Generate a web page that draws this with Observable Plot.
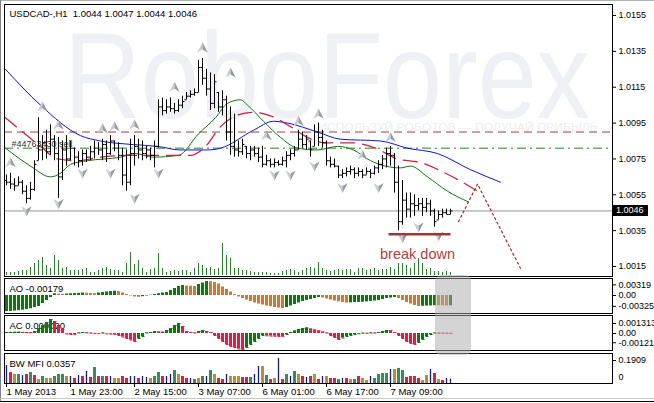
<!DOCTYPE html>
<html><head><meta charset="utf-8">
<script src="https://cdn.jsdelivr.net/npm/d3@7"></script>
<script src="https://cdn.jsdelivr.net/npm/@observablehq/plot@0.6"></script>
<style>
html,body{margin:0;padding:0;background:#fff;}
#wrap{position:relative;width:654px;height:403px;overflow:hidden;background:#fff;}
</style></head><body><div id="wrap"></div>
<script>
// ---------------- DATA ----------------
const headerText = "USDCAD-,H1  1.0044 1.0047 1.0044 1.0046";
const watermarkTitle = "RoboForex";
const watermarkSub = "ИСПОЛЬЗУЙ РОБОТОВ — ПОЛУЧАЙ ПРИБЫЛЬ";
const orderLabel = "#44763430 sell";
const breakLabel = "break down";
const aoLabel = "AO -0.00179";
const acLabel = "AC 0.000020";
const mfiLabel = "BW MFI 0.0357";

const timeTickIdx = [0, 16, 32, 48, 64, 80, 96];
const timeLabels = ["1 May 2013", "1 May 23:00", "2 May 15:00", "3 May 07:00", "6 May 01:00", "6 May 17:00", "7 May 09:00"];
const priceTicks = [1.0155, 1.0135, 1.0115, 1.0095, 1.0075, 1.0055, 1.0035, 1.0015];
const aoTicks = [0.00319, 0, -0.00325];
const aoTickLabels = ["0.00319", "0.00", "-0.00325"];
const acTicks = [0.001313, 0, -0.00121];
const acTickLabels = ["0.001313", "0.00", "-0.00121"];
const mfiTicks = [0.1909];
const mfiTickLabels = ["0.1909"];
const mfiZeroLabel = "0";

const firstOpen = 1.0063;
const highs = [1.0066,1.0067,1.0064,1.0065,1.0063,1.0060,1.0062,1.0074,1.0098,1.0088,
 1.0091,1.0094,1.0088,1.0087,1.0085,1.0088,1.0085,1.0081,1.0079,1.0080,
 1.0080,1.0082,1.0085,1.0084,1.0086,1.0085,1.0088,1.0085,1.0084,1.0081,
 1.0080,1.0086,1.0088,1.0086,1.0085,1.0082,1.0081,1.0085,1.0108,1.0109,
 1.0108,1.0109,1.0106,1.0108,1.0110,1.0112,1.0113,1.0114,1.0130,1.0131,
 1.0125,1.0123,1.0122,1.0112,1.0113,1.0110,1.0104,1.0100,1.0085,1.0086,
 1.0082,1.0082,1.0082,1.0081,1.0082,1.0077,1.0075,1.0075,1.0074,1.0076,
 1.0079,1.0080,1.0082,1.0091,1.0090,1.0088,1.0085,1.0094,1.0095,1.0091,
 1.0085,1.0076,1.0075,1.0071,1.0069,1.0070,1.0071,1.0070,1.0070,1.0069,
 1.0070,1.0069,1.0071,1.0074,1.0077,1.0081,1.0082,1.0078,1.0071,1.0063,
 1.0056,1.0056,1.0055,1.0053,1.0053,1.0053,1.0052,1.0047,1.0046,1.0047,
 1.0047,1.0047];
const lows = [1.0060,1.0058,1.0057,1.0060,1.0055,1.0050,1.0052,1.0057,1.0074,1.0074,
 1.0075,1.0077,1.0074,1.0053,1.0063,1.0071,1.0074,1.0071,1.0070,1.0071,
 1.0073,1.0074,1.0075,1.0077,1.0074,1.0073,1.0077,1.0079,1.0074,1.0060,
 1.0057,1.0060,1.0071,1.0075,1.0074,1.0075,1.0074,1.0070,1.0081,1.0099,
 1.0100,1.0101,1.0100,1.0101,1.0103,1.0108,1.0109,1.0110,1.0112,1.0116,
 1.0110,1.0102,1.0103,1.0101,1.0099,1.0085,1.0077,1.0076,1.0076,1.0077,
 1.0075,1.0074,1.0076,1.0073,1.0070,1.0071,1.0070,1.0070,1.0071,1.0071,
 1.0070,1.0074,1.0076,1.0080,1.0081,1.0080,1.0076,1.0082,1.0082,1.0081,
 1.0071,1.0070,1.0070,1.0064,1.0064,1.0065,1.0066,1.0064,1.0065,1.0064,
 1.0066,1.0064,1.0066,1.0067,1.0069,1.0070,1.0071,1.0056,1.0035,1.0038,
 1.0042,1.0042,1.0043,1.0046,1.0043,1.0045,1.0043,1.0037,1.0041,1.0042,
 1.0044,1.0044];
const closes = [1.0062,1.0061,1.0060,1.0062,1.0057,1.0053,1.0058,1.0072,1.0080,1.0084,
 1.0079,1.0086,1.0078,1.0065,1.0080,1.0075,1.0081,1.0076,1.0074,1.0078,
 1.0076,1.0079,1.0081,1.0080,1.0083,1.0078,1.0085,1.0081,1.0077,1.0066,
 1.0062,1.0078,1.0082,1.0080,1.0078,1.0080,1.0077,1.0082,1.0104,1.0102,
 1.0104,1.0103,1.0102,1.0105,1.0107,1.0110,1.0111,1.0112,1.0126,1.0120,
 1.0114,1.0106,1.0118,1.0104,1.0108,1.0090,1.0082,1.0080,1.0079,1.0083,
 1.0078,1.0080,1.0078,1.0076,1.0072,1.0074,1.0072,1.0073,1.0072,1.0074,
 1.0077,1.0078,1.0080,1.0086,1.0083,1.0086,1.0080,1.0090,1.0087,1.0084,
 1.0074,1.0072,1.0071,1.0066,1.0067,1.0068,1.0069,1.0067,1.0068,1.0066,
 1.0068,1.0067,1.0070,1.0072,1.0075,1.0078,1.0077,1.0062,1.0040,1.0052,
 1.0047,1.0050,1.0049,1.0050,1.0048,1.0050,1.0046,1.0040,1.0044,1.0045,
 1.0044,1.0046];
const volumes = [150,150,150,200,250,250,400,600,750,900,
 500,350,1000,750,350,400,250,250,250,300,
 350,150,150,250,350,400,300,250,250,150,
 600,1150,550,750,350,150,300,350,1100,350,
 150,200,250,200,250,250,150,350,600,500,
 350,400,300,350,1600,1000,850,350,350,250,
 250,200,150,150,150,150,100,100,100,200,
 250,300,250,150,250,350,400,350,650,350,
 250,200,250,300,250,300,300,150,350,350,
 250,300,350,250,300,300,400,300,600,600,
 500,350,600,850,600,300,350,200,200,150,
 200,150];

// Alligator-style moving averages (bar position, price)
const blueIdx = [-0.25,8.5,18.5,23.5,31.75,37.75,43.5,50.25,53.5,61.75,66.75,70.25,77.75,83.5,93.5,100.25,107.75,116,123.5];
const bluePrice = [1.0125,1.0105,1.0088,1.0085,1.0083,1.0082,1.0080,1.0080,1.0081,1.0091,1.0096,1.0095,1.0090,1.0086,1.0085,1.0081,1.0078,1.0069,1.0062];
const redIdx = [-0.25,3.5,8.5,12.75,17.75,23.5,31,38.5,46,49.75,53.5,57.25,61.5,66,71,75.25,79.75,86.5,92.25,97.75,103.5,109.75,114,117.75];
const redPrice = [1.0098,1.0091,1.0082,1.0075,1.0074,1.0076,1.0077,1.0077,1.0077,1.0082,1.0093,1.0099,1.0101,1.0099,1.0093,1.0087,1.0084,1.0084,1.0081,1.0075,1.0073,1.0067,1.0062,1.0057];
const greenIdx = [-0.25,6,11,13.5,16,20.25,28.5,32.25,36.5,43,48,52.25,55.25,58.5,60.25,64.25,68.5,72.75,77.75,82.75,86.75,91,98.5,101,105.25,110.25,115.5];
const greenPrice = [1.0081,1.0071,1.0065,1.0067,1.0072,1.0074,1.0076,1.0078,1.0076,1.0077,1.0089,1.0098,1.0106,1.0108,1.0105,1.0096,1.0087,1.0081,1.0080,1.0082,1.0080,1.0074,1.0070,1.0071,1.0065,1.0057,1.0051];

// Fractals
const upFracIdx = [1,9,13,24,27,32,42,49,56,65,73,78,89,96];
const upFracPrice = [1.0073,1.0104,1.0094,1.0092,1.0093,1.0094,1.0115,1.0137,1.0123,1.0088,1.0096,1.0100,1.0077,1.0087];
const downFracIdx = [5,13,19,26,32,38,67,71,77,84,93,99,103,108];
const downFracPrice = [1.0046,1.0050,1.0067,1.0067,1.0053,1.0067,1.0066,1.0066,1.0071,1.0059,1.0059,1.0031,1.0037,1.0032];

// Levels and drawings
const bidPrice = 1.0046;
const stopLevel = 1.0090;
const orderLevel = 1.0081;
const breakLevel = 1.0033;
const breakFrom = 95.5, breakTo = 111, breakTextIdx = 102.75;
const forecastIdx = [113, 117.75, 128.5];
const forecastPrice = [1.0040, 1.0061, 1.0014];

// Awesome Oscillator
const aoValues = [-0.00482,-0.00478,-0.00468,-0.00455,-0.00440,-0.00423,-0.00398,-0.00365,-0.00330,-0.00240,
 -0.00150,-0.00060,0.00050,0.00042,0.00036,0.00045,0.00054,0.00060,0.00066,0.00075,
 0.00069,0.00060,0.00054,0.00075,0.00090,0.00105,0.00120,0.00129,0.00114,0.00075,
 0.00030,-0.00015,-0.00045,-0.00054,-0.00036,-0.00015,0.00009,0.00030,0.00054,0.00075,
 0.00090,0.00150,0.00210,0.00270,0.00300,0.00285,0.00279,0.00270,0.00330,0.00375,
 0.00420,0.00414,0.00390,0.00345,0.00255,0.00180,0.00105,0.00030,-0.00045,-0.00090,
 -0.00135,-0.00180,-0.00225,-0.00255,-0.00285,-0.00315,-0.00336,-0.00360,-0.00375,-0.00390,
 -0.00360,-0.00315,-0.00270,-0.00225,-0.00180,-0.00150,-0.00120,-0.00090,-0.00060,-0.00075,
 -0.00105,-0.00135,-0.00165,-0.00189,-0.00210,-0.00225,-0.00219,-0.00213,-0.00207,-0.00201,
 -0.00192,-0.00180,-0.00165,-0.00150,-0.00120,-0.00090,-0.00075,-0.00060,-0.00090,-0.00150,
 -0.00210,-0.00255,-0.00300,-0.00330,-0.00324,-0.00318,-0.00312,-0.00306,-0.00309,-0.00312,
 -0.00315,-0.00309];
// Accelerator Oscillator
const acValues = [0.000131,0.000140,0.000157,0.000170,0.000144,0.000118,0.000105,0.000262,0.000655,0.001048,
 0.001441,0.001834,0.001572,0.001048,0.000524,-0.000066,-0.000131,-0.000157,0.000066,0.000131,
 0.000079,0.000039,-0.000010,-0.000026,0.000066,-0.000039,-0.000079,-0.000118,-0.000262,-0.000459,
 -0.000655,-0.000852,-0.001048,-0.000655,-0.000393,0.000066,0.000131,0.000236,0.000197,0.000170,
 0.000393,0.000655,0.001048,0.001310,0.000917,0.000262,0.000131,0.000066,0.000262,0.000393,
 0.000262,0.000131,-0.000262,-0.000655,-0.001048,-0.001441,-0.001703,-0.001834,-0.002031,-0.002096,
 -0.001834,-0.001441,-0.001048,-0.000655,-0.000262,-0.000301,-0.000341,-0.000367,-0.000393,-0.000419,
 -0.000131,0.000131,0.000328,0.000524,0.000655,0.000721,0.000590,0.000459,0.000328,0.000197,
 0.000066,-0.000262,-0.000524,-0.000786,-0.000590,-0.000393,-0.000262,-0.000131,-0.000039,0.000039,
 0.000026,0.000066,0.000052,0.000131,0.000262,0.000393,0.000367,0.000131,-0.000262,-0.000655,
 -0.001048,-0.001310,-0.001441,-0.001179,-0.000786,-0.000393,-0.000131,0.000052,0.000039,0.000033,
 0.000026,0.000020];
// Market Facilitation Index (G = green, F = fade, B = fake, S = squat)
const mfiValues = [0.149,0.091,0.075,0.075,0.066,0.075,0.091,0.066,0.033,0.058,
 0.042,0.042,0.058,0.075,0.075,0.058,0.058,0.042,0.066,0.058,
 0.100,0.050,0.133,0.058,0.058,0.058,0.058,0.042,0.042,0.058,
 0.042,0.058,0.058,0.042,0.058,0.050,0.042,0.058,0.091,0.058,
 0.058,0.075,0.108,0.075,0.058,0.042,0.042,0.033,0.042,0.058,
 0.058,0.108,0.075,0.042,0.033,0.075,0.058,0.058,0.058,0.050,
 0.050,0.050,0.075,0.141,0.141,0.066,0.033,0.042,0.208,0.033,
 0.075,0.058,0.100,0.075,0.058,0.050,0.058,0.075,0.033,0.058,
 0.058,0.042,0.042,0.033,0.042,0.042,0.033,0.033,0.058,0.042,
 0.025,0.058,0.042,0.075,0.083,0.083,0.116,0.116,0.125,0.108,
 0.050,0.058,0.058,0.042,0.025,0.066,0.116,0.083,0.033,0.025,
 0.042,0.0357];
const mfiZones = ["B","S","F","G","B","S","G","S","F","G",
 "F","F","G","G","G","F","B","S","B","S",
 "B","S","G","S","G","S","B","F","F","S",
 "S","B","B","S","B","B","F","G","G","S",
 "B","B","G","F","S","S","B","G","F","G",
 "B","G","F","S","S","B","F","F","F","S",
 "S","G","B","B","F","G","S","F","B","S",
 "G","B","G","F","S","B","S","F","S","B",
 "F","S","S","G","B","S","F","G","S","F",
 "F","B","G","G","G","G","B","F","G","G",
 "S","S","S","S","F","F","B","S","F","S",
 "B","B"];

// ---------------- RENDER ----------------
const wrap = document.getElementById("wrap");
const W = 654, ML = 4, MR = 42, XD = [-0.5, 151.5];
const FONT = "'Liberation Sans', Arial, sans-serif";
const STYLE = `font-family:${FONT};font-size:9px;background:transparent;overflow:visible;max-width:none;color:#000;`;
function add(el, top, left = 0) {
  el.style.position = "absolute"; el.style.top = top + "px"; el.style.left = left + "px";
  wrap.appendChild(el); return el;
}

// watermark (behind), horizontally scaled to fit its box
const SVGNS = "http://www.w3.org/2000/svg";
const wm = document.createElementNS(SVGNS, "svg");
wm.setAttribute("width", 654); wm.setAttribute("height", 278);
add(wm, 0);
function wmText(str, x, y, size, fill, targetWidth) {
  const t = document.createElementNS(SVGNS, "text");
  t.setAttribute("font-family", "Liberation Sans, Arial, sans-serif");
  t.setAttribute("font-size", size);
  t.setAttribute("fill", fill);
  t.textContent = str;
  wm.appendChild(t);
  const natural = t.getComputedTextLength() || targetWidth;
  t.setAttribute("transform", `translate(${x},${y}) scale(${targetWidth / natural},1)`);
}
wmText(watermarkTitle, 64, 118, 122, "#eef0f3", 526);
wmText(watermarkSub, 318, 131, 11, "#eceef2", 280);

const idx = d3.range(closes.length);
const bars = idx.map(i => ({
  i, high: highs[i], low: lows[i], close: closes[i],
  open: Math.min(highs[i], Math.max(lows[i], i ? closes[i - 1] : firstOpen))
}));
const zip = (xs, ys) => xs.map((x, k) => ({i: x, p: ys[k]}));
const blue = zip(blueIdx, bluePrice), red = zip(redIdx, redPrice), green = zip(greenIdx, greenPrice);
const upF = zip(upFracIdx, upFracPrice), dnF = zip(downFracIdx, downFracPrice);
const forecast = zip(forecastIdx, forecastPrice);

function arrowHalf(dir, side) {
  return {draw(ctx, size) {
    const r = Math.sqrt(size / Math.PI);
    ctx.moveTo(0, -dir * r);
    ctx.lineTo(side * r * 0.95, dir * r * 0.85);
    ctx.lineTo(0, dir * r * 0.3);
    ctx.closePath();
  }};
}
const axisOpts = {anchor: "right", tickSize: 3, tickPadding: 3, label: null};

const mainPlot = Plot.plot({
  width: W, height: 278, marginLeft: ML, marginRight: MR, marginTop: 4, marginBottom: 2,
  style: STYLE,
  x: {domain: XD, axis: null, label: null},
  y: {domain: [1.000943, 1.016113], axis: null, label: null},
  marks: [
    Plot.ruleY([stopLevel], {stroke: "#a33a3a", strokeDasharray: "8,5"}),
    Plot.ruleY([orderLevel], {stroke: "#178a17", strokeDasharray: "9,4,2,4"}),
    Plot.ruleY([bidPrice], {stroke: "#8f9297"}),
    Plot.text([orderLabel], {frameAnchor: "left", y: () => orderLevel, text: d => d, dx: 7, dy: -4, textAnchor: "start", fill: "#333", fontSize: 9}),
    Plot.line(blue, {x: "i", y: "p", stroke: "#1010e8", strokeWidth: 1, curve: "monotone-x"}),
    Plot.line(green, {x: "i", y: "p", stroke: "#0a7a0a", strokeWidth: 1, curve: "monotone-x"}),
    Plot.line(red, {x: "i", y: "p", stroke: "#d0203e", strokeWidth: 1.3, strokeDasharray: "14,8", curve: "monotone-x"}),
    Plot.ruleX(bars, {x: "i", y1: "low", y2: "high", stroke: "#000"}),
    Plot.link(bars, {x1: d => d.i - 0.5, x2: "i", y1: "open", y2: "open", stroke: "#000"}),
    Plot.link(bars, {x1: "i", x2: d => d.i + 0.5, y1: "close", y2: "close", stroke: "#000"}),
    Plot.dot(upF, {x: "i", y: "p", r: 5.5, symbol: arrowHalf(1, -1), fill: "#c9ccd0"}),
    Plot.dot(upF, {x: "i", y: "p", r: 5.5, symbol: arrowHalf(1, 1), fill: "#969ba1"}),
    Plot.dot(dnF, {x: "i", y: "p", r: 5.5, symbol: arrowHalf(-1, -1), fill: "#c9ccd0"}),
    Plot.dot(dnF, {x: "i", y: "p", r: 5.5, symbol: arrowHalf(-1, 1), fill: "#969ba1"}),
    Plot.link([breakLevel], {x1: () => breakFrom, x2: () => breakTo, y1: d => d, y2: d => d, stroke: "#a83232", strokeWidth: 2.5}),
    Plot.text([breakLabel], {x: () => breakTextIdx, y: () => breakLevel, dy: 20, text: d => d, fill: "#b0403f", fontSize: 14.5}),
    Plot.line(forecast, {x: "i", y: "p", stroke: "#9c2a2a", strokeWidth: 1.2, strokeDasharray: "2,3"}),
    Plot.text([headerText], {frameAnchor: "top-left", text: d => d, dx: 5, dy: 9, lineAnchor: "middle", textAnchor: "start", fill: "#000", fontSize: 9.5}),
    Plot.frame({stroke: "#000"}),
    Plot.axisY(priceTicks, {...axisOpts, tickFormat: d => d.toFixed(4)})
  ]
});
add(mainPlot, 0);

// volume overlay at bottom of main panel
const volPlot = Plot.plot({
  width: W, height: 34, marginLeft: ML, marginRight: MR, marginTop: 0, marginBottom: 1,
  style: STYLE,
  x: {domain: XD, axis: null, label: null},
  y: {domain: [0, 1650], axis: null, label: null},
  marks: [Plot.ruleX(idx, {x: d => d, y1: 0, y2: d => volumes[d], stroke: "#2a7f2a"})]
});
add(volPlot, 242);

// bid price box
const yBid = mainPlot.scale("y").apply(bidPrice);
const box = document.createElement("div");
box.textContent = bidPrice.toFixed(4);
Object.assign(box.style, {width: "32px", height: "11px", lineHeight: "11px", background: "#000", color: "#fff",
  font: `9px ${FONT}`, paddingLeft: "3px"});
add(box, Math.round(yBid - 5.5), 613);

// AO panel
const aoData = aoValues.map((v, i) => ({i, v, up: i === 0 || v > aoValues[i - 1]}));
const aoPlot = Plot.plot({
  width: W, height: 39, marginLeft: ML, marginRight: MR, marginTop: 2, marginBottom: 2,
  style: STYLE,
  x: {domain: XD, axis: null, label: null},
  y: {domain: [-0.0054, 0.0051], axis: null, label: null},
  marks: [
    Plot.text([aoLabel], {frameAnchor: "top-left", text: d => d, dx: 5, dy: 10, lineAnchor: "middle", textAnchor: "start", fontSize: 9.5}),
    Plot.rect(aoData.filter(d => d.up), {x1: d => d.i - 0.25, x2: d => d.i + 0.5, y1: 0, y2: "v", fill: "#0a7a0a"}),
    Plot.rect(aoData.filter(d => !d.up), {x1: d => d.i - 0.25, x2: d => d.i + 0.5, y1: 0, y2: "v", fill: "#d17732"}),
    Plot.frame({stroke: "#000"}),
    Plot.axisY(aoTicks, {...axisOpts, tickFormat: d => aoTickLabels[aoTicks.indexOf(d)]})
  ]
});
add(aoPlot, 276);

// AC panel
const acData = acValues.map((v, i) => ({i, v, up: i === 0 || v > acValues[i - 1]}));
const acPlot = Plot.plot({
  width: W, height: 39, marginLeft: ML, marginRight: MR, marginTop: 2, marginBottom: 2,
  style: STYLE,
  x: {domain: XD, axis: null, label: null},
  y: {domain: [-0.002227, 0.002358], axis: null, label: null},
  marks: [
    Plot.text([acLabel], {frameAnchor: "top-left", text: d => d, dx: 5, dy: 10, lineAnchor: "middle", textAnchor: "start", fontSize: 9.5}),
    Plot.rect(acData.filter(d => d.up), {x1: d => d.i - 0.25, x2: d => d.i + 0.5, y1: 0, y2: "v", fill: "#0a7a0a"}),
    Plot.rect(acData.filter(d => !d.up), {x1: d => d.i - 0.25, x2: d => d.i + 0.5, y1: 0, y2: "v", fill: "#dc1e46"}),
    Plot.link(acData, {x1: d => d.i - 0.25, x2: d => d.i + 0.5, y1: "v", y2: "v", stroke: d => d.up ? "#0a7a0a" : "#dc1e46"}),
    Plot.frame({stroke: "#000"}),
    Plot.axisY(acTicks, {...axisOpts, tickFormat: d => acTickLabels[acTicks.indexOf(d)]})
  ]
});
add(acPlot, 313);

// MFI panel + time axis
const zoneColor = {G: "#3a8a5c", F: "#b8902e", S: "#d92048"};
const mfiData = mfiValues.map((v, i) => ({i, v, z: mfiZones[i]}));
const mfiPlot = Plot.plot({
  width: W, height: 51, marginLeft: ML, marginRight: MR, marginTop: 2, marginBottom: 19,
  style: STYLE,
  x: {domain: XD, axis: null, label: null},
  y: {domain: [0, 0.249], axis: null, label: null},
  marks: [
    Plot.text([mfiLabel], {frameAnchor: "top-left", text: d => d, dx: 5, dy: 10, lineAnchor: "middle", textAnchor: "start", fontSize: 9.5}),
    Plot.rect(mfiData.filter(d => d.z !== "B"), {x1: d => d.i - 0.25, x2: d => d.i + 0.5, y1: 0, y2: "v", fill: d => zoneColor[d.z]}),
    Plot.ruleX(mfiData.filter(d => d.z === "B"), {x: "i", y1: 0, y2: "v", stroke: "#1a1a78", strokeWidth: 1.3}),
    Plot.frame({stroke: "#000"}),
    Plot.axisY(mfiTicks, {...axisOpts, tickFormat: d => mfiTickLabels[mfiTicks.indexOf(d)]}),
    Plot.text([0], {x: () => XD[1], y: d => d, text: () => mfiZeroLabel, dx: 6, dy: -6, textAnchor: "start", lineAnchor: "middle", fontSize: 9}),
    Plot.axisX(timeTickIdx, {anchor: "bottom", tickSize: 4, tickPadding: 1, textAnchor: "start", fontSize: 9.5, label: null,
      tickFormat: d => timeLabels[timeTickIdx.indexOf(d)]})
  ]
});
add(mfiPlot, 351);

// grey highlight box over AO/AC panels
const hl = document.createElement("div");
Object.assign(hl.style, {width: "36px", height: "80px", borderRadius: "6px", background: "rgba(170,170,170,0.5)"});
add(hl, 275, 435);

// window edges
const edges = [[0, 0, 654, 1, "#b0b0b0"], [0, 0, 1, 401, "#808080"], [398, 0, 654, 1, "#c8c8c8"], [401, 0, 654, 1, "#000"]];
for (const [t, l, w, h, c] of edges) {
  const e = document.createElement("div");
  Object.assign(e.style, {width: w + "px", height: h + "px", background: c});
  add(e, t, l);
}
</script></body></html>
